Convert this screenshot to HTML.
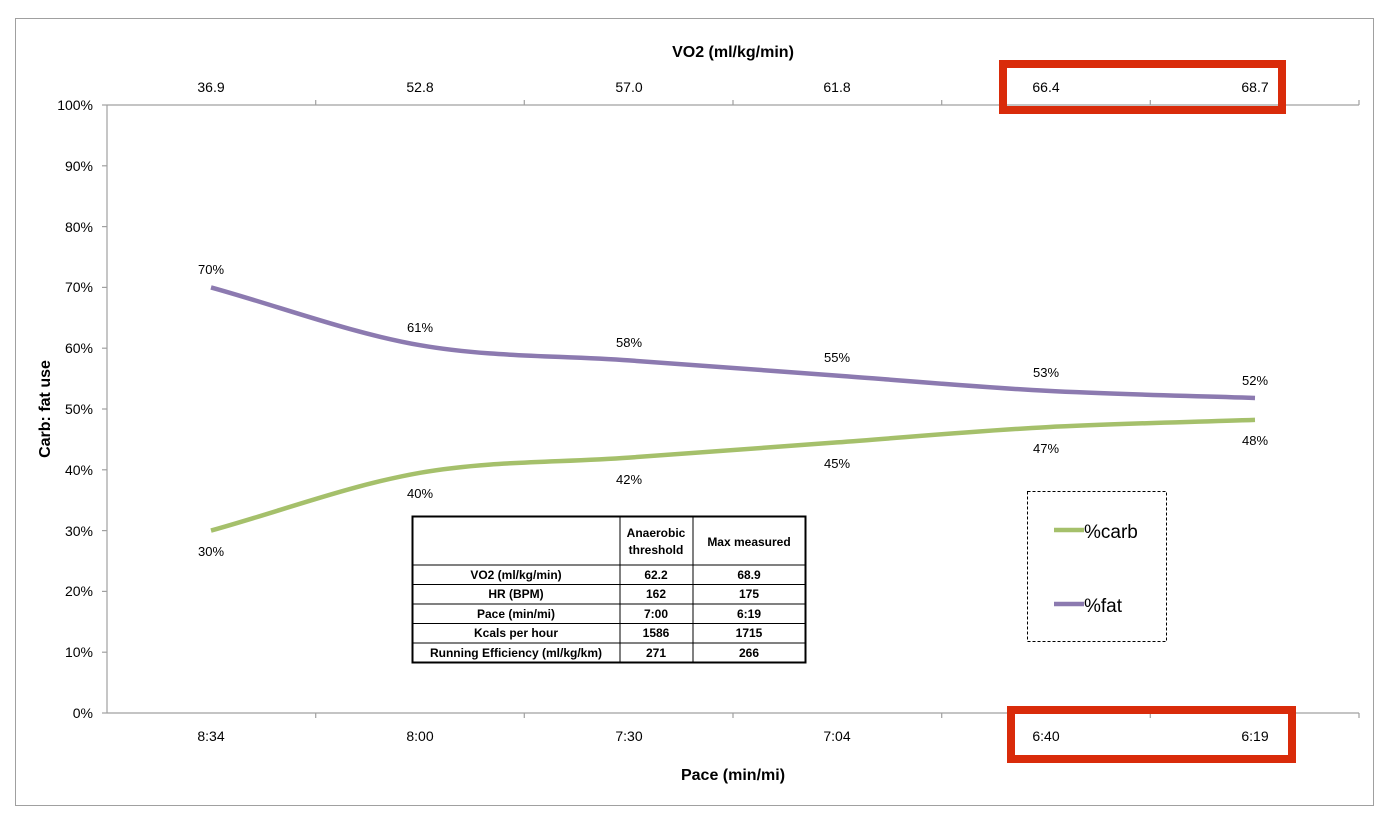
<!DOCTYPE html>
<html><head><meta charset="utf-8"><style>
body{margin:0;background:#fff}
svg{display:block;font-family:"Liberation Sans",Arial,sans-serif}
</style></head><body>
<svg width="1388" height="818" viewBox="0 0 1388 818" xmlns="http://www.w3.org/2000/svg">
<rect x="15.5" y="18.5" width="1358" height="787" fill="#fff" stroke="#a0a0a0" stroke-width="1"/>
<!-- axes -->
<g stroke="#a0a0a0" stroke-width="1.2" fill="none">
<line x1="107" y1="105" x2="107" y2="713"/>
<line x1="107" y1="105" x2="1359" y2="105"/>
<line x1="107" y1="713" x2="1359" y2="713"/>
<line x1="102" y1="105" x2="107" y2="105"/><line x1="102" y1="165.8" x2="107" y2="165.8"/><line x1="102" y1="226.6" x2="107" y2="226.6"/><line x1="102" y1="287.4" x2="107" y2="287.4"/><line x1="102" y1="348.2" x2="107" y2="348.2"/><line x1="102" y1="409" x2="107" y2="409"/><line x1="102" y1="469.8" x2="107" y2="469.8"/><line x1="102" y1="530.6" x2="107" y2="530.6"/><line x1="102" y1="591.4" x2="107" y2="591.4"/><line x1="102" y1="652.2" x2="107" y2="652.2"/><line x1="102" y1="713" x2="107" y2="713"/>
<line x1="315.7" y1="100" x2="315.7" y2="105"/><line x1="524.3" y1="100" x2="524.3" y2="105"/><line x1="733" y1="100" x2="733" y2="105"/><line x1="941.7" y1="100" x2="941.7" y2="105"/><line x1="1150.3" y1="100" x2="1150.3" y2="105"/><line x1="1359" y1="100" x2="1359" y2="105"/>
<line x1="315.7" y1="713" x2="315.7" y2="718"/><line x1="524.3" y1="713" x2="524.3" y2="718"/><line x1="733" y1="713" x2="733" y2="718"/><line x1="941.7" y1="713" x2="941.7" y2="718"/><line x1="1150.3" y1="713" x2="1150.3" y2="718"/><line x1="1359" y1="713" x2="1359" y2="718"/>
</g>
<g font-size="14" fill="#000" text-anchor="end">
<text x="93" y="110">100%</text><text x="93" y="171">90%</text><text x="93" y="232">80%</text><text x="93" y="292">70%</text><text x="93" y="353">60%</text><text x="93" y="414">50%</text><text x="93" y="475">40%</text><text x="93" y="536">30%</text><text x="93" y="596">20%</text><text x="93" y="657">10%</text><text x="93" y="718">0%</text>
</g>
<g font-size="14" fill="#000" text-anchor="middle">
<text x="211" y="92">36.9</text><text x="420" y="92">52.8</text><text x="629" y="92">57.0</text><text x="837" y="92">61.8</text><text x="1046" y="92">66.4</text><text x="1255" y="92">68.7</text>
<text x="211" y="741">8:34</text><text x="420" y="741">8:00</text><text x="629" y="741">7:30</text><text x="837" y="741">7:04</text><text x="1046" y="741">6:40</text><text x="1255" y="741">6:19</text>
</g>
<g font-size="16" font-weight="bold" fill="#000" text-anchor="middle">
<text x="733" y="57">VO2 (ml/kg/min)</text>
<text x="733" y="780">Pace (min/mi)</text>
<text transform="translate(50,409) rotate(-90)">Carb: fat use</text>
</g>
<!-- series -->
<path d="M211,287.4 C280.7,306.7 350.3,333 420,345.2 C489.7,357.4 559.3,355.3 629,360.4 C698.7,365.5 767.7,370.5 837,375.6 C906.7,380.7 976.3,387.1 1046,390.8 C1115.7,394.5 1185.3,395.6 1255,398" fill="none" stroke="#8c7ab0" stroke-width="4.5"/>
<path d="M211,530.6 C280.7,511.3 350.3,485 420,472.8 C489.7,460.6 559.3,462.7 629,457.6 C698.7,452.5 767.7,447.5 837,442.4 C906.7,437.3 976.3,430.9 1046,427.2 C1115.7,423.5 1185.3,422.3 1255,419.9" fill="none" stroke="#a5c06b" stroke-width="4.5"/>
<g font-size="13" fill="#000" text-anchor="middle">
<text x="211" y="274">70%</text><text x="420" y="332">61%</text><text x="629" y="347">58%</text><text x="837" y="362">55%</text><text x="1046" y="377">53%</text><text x="1255" y="385">52%</text>
<text x="211" y="556">30%</text><text x="420" y="498">40%</text><text x="629" y="484">42%</text><text x="837" y="468">45%</text><text x="1046" y="453">47%</text><text x="1255" y="445">48%</text>
</g>
<!-- table -->
<g stroke="#000" fill="none">
<rect x="412.5" y="516.5" width="393" height="146" stroke-width="2"/>
<line x1="412" y1="565" x2="806" y2="565"/><line x1="412" y1="584.5" x2="806" y2="584.5"/><line x1="412" y1="604" x2="806" y2="604"/><line x1="412" y1="623.5" x2="806" y2="623.5"/><line x1="412" y1="643" x2="806" y2="643"/>
<line x1="620" y1="516" x2="620" y2="663"/><line x1="693" y1="516" x2="693" y2="663"/>
</g>
<g font-size="12" font-weight="bold" fill="#000" text-anchor="middle">
<text x="656" y="537">Anaerobic</text><text x="656" y="554">threshold</text><text x="749" y="546">Max measured</text>
<text x="516" y="579">VO2 (ml/kg/min)</text><text x="656" y="579">62.2</text><text x="749" y="579">68.9</text>
<text x="516" y="598">HR (BPM)</text><text x="656" y="598">162</text><text x="749" y="598">175</text>
<text x="516" y="618">Pace (min/mi)</text><text x="656" y="618">7:00</text><text x="749" y="618">6:19</text>
<text x="516" y="637">Kcals per hour</text><text x="656" y="637">1586</text><text x="749" y="637">1715</text>
<text x="516" y="657">Running Efficiency (ml/kg/km)</text><text x="656" y="657">271</text><text x="749" y="657">266</text>
</g>
<!-- legend -->
<rect x="1027.5" y="491.5" width="139" height="150" fill="none" stroke="#000" stroke-dasharray="3,2"/>
<line x1="1054" y1="530" x2="1084" y2="530" stroke="#a5c06b" stroke-width="4.5"/>
<line x1="1054" y1="604" x2="1084" y2="604" stroke="#8c7ab0" stroke-width="4.5"/>
<text x="1084" y="538" font-size="19" fill="#000">%carb</text>
<text x="1084" y="612" font-size="19" fill="#000">%fat</text>
<!-- red boxes -->
<rect x="1003" y="64" width="279" height="46" fill="none" stroke="#d92b0a" stroke-width="8"/>
<rect x="1011" y="710" width="281" height="49" fill="none" stroke="#d92b0a" stroke-width="8"/>
</svg>
</body></html>
